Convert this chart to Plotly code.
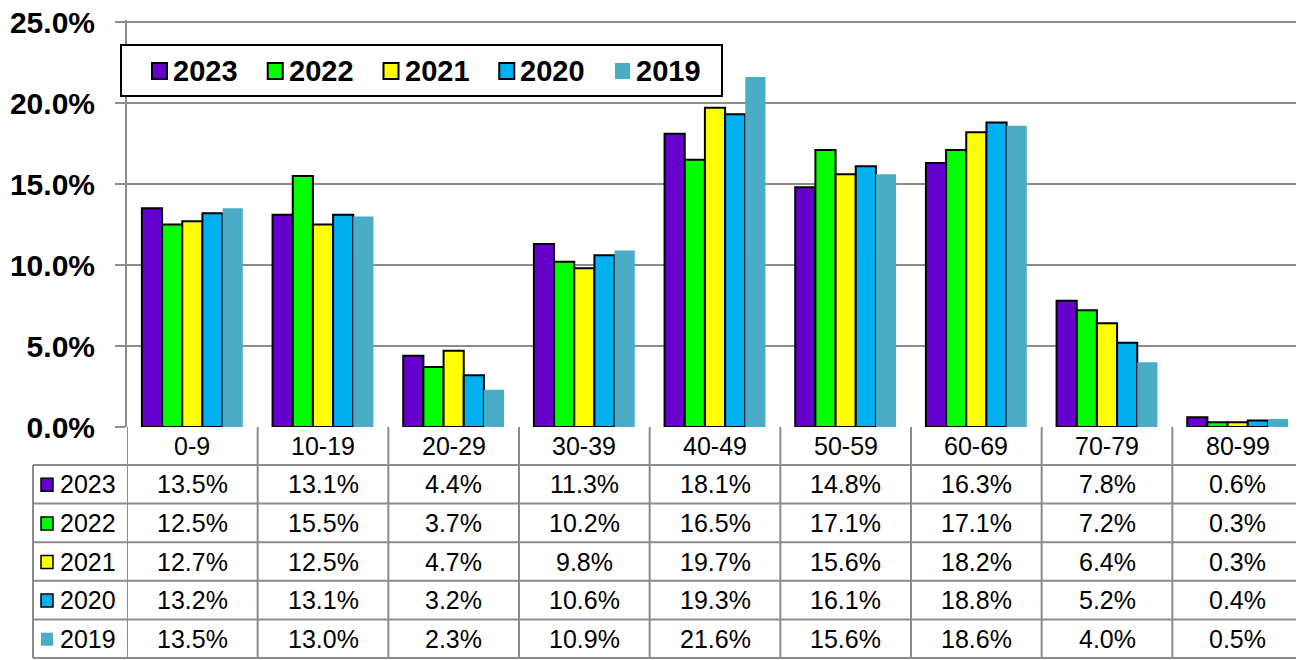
import plotly.graph_objects as go

# the page adds an 8px body margin, so the figure is sized to the visible area
OFF = 8
W, H = 1304 - OFF, 660 - OFF

age_groups = ['0-9', '10-19', '20-29', '30-39', '40-49', '50-59', '60-69', '70-79', '80-99']
years = ['2023', '2022', '2021', '2020', '2019']
share_2023 = [13.5, 13.1, 4.4, 11.3, 18.1, 14.8, 16.3, 7.8, 0.6]
share_2022 = [12.5, 15.5, 3.7, 10.2, 16.5, 17.1, 17.1, 7.2, 0.3]
share_2021 = [12.7, 12.5, 4.7, 9.8, 19.7, 15.6, 18.2, 6.4, 0.3]
share_2020 = [13.2, 13.1, 3.2, 10.6, 19.3, 16.1, 18.8, 5.2, 0.4]
share_2019 = [13.5, 13.0, 2.3, 10.9, 21.6, 15.6, 18.6, 4.0, 0.5]
y_ticks = [0, 5, 10, 15, 20, 25]

series = {
    '2023': share_2023,
    '2022': share_2022,
    '2021': share_2021,
    '2020': share_2020,
    '2019': share_2019,
}
colors = {
    '2023': '#6600CC',
    '2022': '#00FF00',
    '2021': '#FFFF00',
    '2020': '#00B0F0',
    '2019': '#4BACC6',
}
outlined = {'2023': True, '2022': True, '2021': True, '2020': True, '2019': False}

FONT = 'Arial, Liberation Sans, sans-serif'
GRID = '#8C8C8C'


def px_x(p):
    # page pixel column -> paper x
    return (p - OFF) / W


def px_y(p):
    # page pixel row -> paper y
    return 1 - (p - OFF) / H


fig = go.Figure()

for yr in years:
    fig.add_trace(go.Bar(
        x=age_groups,
        y=series[yr],
        name=yr,
        showlegend=False,
        marker=dict(
            color=colors[yr],
            line=dict(color='black', width=2 if outlined[yr] else 0),
        ),
        hovertemplate='<b>%{x}</b><br>' + yr + ': %{y:.1f}%<extra></extra>',
    ))

shapes = []
annotations = []

# ---- legend box on top of the plot ----
shapes.append(dict(type='rect', xref='paper', yref='paper',
                   x0=px_x(121), x1=px_x(722), y0=px_y(96), y1=px_y(45),
                   fillcolor='white', line=dict(color='black', width=2),
                   layer='above'))
for i, yr in enumerate(years):
    mx = 152 + 115.75 * i
    shapes.append(dict(type='rect', xref='paper', yref='paper',
                       x0=px_x(mx), x1=px_x(mx + 15), y0=px_y(79), y1=px_y(63),
                       fillcolor=colors[yr],
                       line=dict(color='black', width=2 if outlined[yr] else 0),
                       layer='above'))
    annotations.append(dict(x=px_x(mx + 19), y=px_y(70.5), xref='paper', yref='paper',
                            text=f'<b>{yr}</b>', showarrow=False,
                            font=dict(family=FONT, size=29, color='black'),
                            xanchor='left', yanchor='middle'))

# ---- data table under the chart ----
plot_left, plot_right = 127, 1303
axis_bottom = 427
header_bottom = 465
table_left = 33
row_h = (658 - header_bottom) / len(years)
row_edges = [header_bottom + i * row_h for i in range(len(years) + 1)]
line = dict(color=GRID, width=2)

for yy in row_edges:
    shapes.append(dict(type='line', xref='paper', yref='paper',
                       x0=px_x(table_left), x1=px_x(plot_right),
                       y0=px_y(yy), y1=px_y(yy), line=line))
for i in range(len(age_groups) + 1):
    shapes.append(dict(type='line', xref='x', yref='paper',
                       x0=i - 0.5, x1=i - 0.5,
                       y0=px_y(axis_bottom), y1=px_y(row_edges[-1]), line=line))
shapes.append(dict(type='line', xref='paper', yref='paper',
                   x0=px_x(table_left), x1=px_x(table_left),
                   y0=px_y(header_bottom), y1=px_y(row_edges[-1]), line=line))

for i, grp in enumerate(age_groups):
    annotations.append(dict(x=i, y=px_y((axis_bottom + header_bottom) / 2),
                            xref='x', yref='paper', text=grp, showarrow=False,
                            font=dict(family=FONT, size=25, color='black'),
                            xanchor='center', yanchor='middle'))

for r, yr in enumerate(years):
    yc_px = row_edges[r] + row_h / 2
    shapes.append(dict(type='rect', xref='paper', yref='paper',
                       x0=px_x(41), x1=px_x(53), y0=px_y(yc_px + 7), y1=px_y(yc_px - 6),
                       fillcolor=colors[yr],
                       line=dict(color='black', width=1.5 if outlined[yr] else 0)))
    annotations.append(dict(x=px_x(58), y=px_y(yc_px), xref='paper', yref='paper',
                            text=yr, showarrow=False,
                            font=dict(family=FONT, size=25, color='black'),
                            xanchor='left', yanchor='middle'))
    for i, v in enumerate(series[yr]):
        annotations.append(dict(x=i, y=px_y(yc_px), xref='x', yref='paper',
                                text=f'{v:.1f}%', showarrow=False,
                                font=dict(family=FONT, size=25, color='black'),
                                xanchor='center', yanchor='middle'))

# y axis: 0 at page row 427, 25 at page row 22; a hair of headroom keeps the 25% gridline
y_top = 25.1
px_per_unit = (427 - 22) / 25
fig.update_layout(
    width=W,
    height=H,
    margin=dict(l=0, r=0, t=0, b=0),
    paper_bgcolor='white',
    plot_bgcolor='white',
    barmode='group',
    bargap=0.228,
    bargroupgap=0,
    showlegend=False,
    xaxis=dict(
        domain=[px_x(plot_left), px_x(plot_right)],
        range=[-0.5, len(age_groups) - 0.5],
        showticklabels=False,
        ticks='',
        showline=False,
        showgrid=False,
        fixedrange=True,
    ),
    yaxis=dict(
        domain=[px_y(axis_bottom), px_y(427 - y_top * px_per_unit)],
        range=[0, y_top],
        tickvals=y_ticks,
        ticktext=[f'{t:.1f}%' for t in y_ticks],
        ticks='outside',
        ticklen=10,
        tickwidth=2,
        tickcolor=GRID,
        ticklabelstandoff=14,
        ticklabeloverflow='allow',
        tickfont=dict(family=FONT, size=30, color='black', weight='bold'),
        showgrid=True,
        gridcolor=GRID,
        gridwidth=2,
        showline=True,
        linecolor=GRID,
        linewidth=2,
        zeroline=False,
        automargin=False,
    ),
    shapes=shapes,
    annotations=annotations,
)

fig.write_html('out.html')
